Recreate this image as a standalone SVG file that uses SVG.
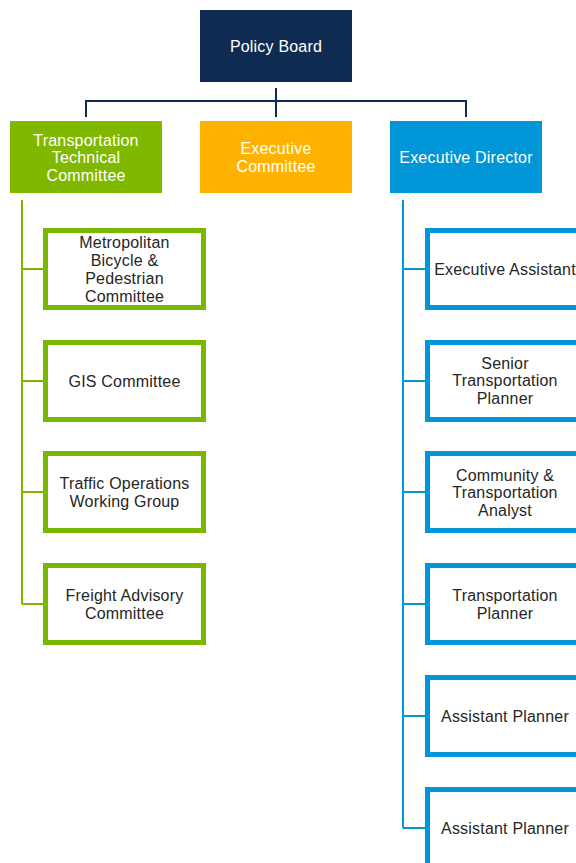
<svg xmlns="http://www.w3.org/2000/svg" width="576" height="863" viewBox="0 0 576 863">
<style>
text{font-family:"Liberation Sans",Arial,sans-serif;font-size:16px;letter-spacing:0.2px;text-anchor:middle;dominant-baseline:central}
.w{fill:#ffffff}
.d{fill:#262626}
.g{fill:#ffffff;stroke:#7AB800;stroke-width:5}
.b{fill:#ffffff;stroke:#0096D8;stroke-width:5}
</style>
<rect width="576" height="863" fill="#ffffff"/>
<g id="connectors" fill="none" stroke-width="2">
<path d="M276 88V101M86 117V101H466V117M276 101V117" stroke="#0F2B52"/>
<path d="M22 200V604M22 269H45M22 381H45M22 492H45M22 604H45" stroke="#7AB800"/>
<path d="M403 200V828M403 269H426M403 381H426M403 492H426M403 604H426M403 716H426M403 828H426" stroke="#0096D8"/>
</g>
<g id="policy-board"><rect x="200" y="10" width="152" height="72" fill="#0F2B52"/><text class="w" x="276" y="46">Policy Board</text></g>
<g id="ttc"><rect x="10" y="121" width="152" height="72" fill="#80B800"/><text class="w" x="86" y="140">Transportation</text><text class="w" x="86" y="157.5">Technical</text><text class="w" x="86" y="175">Committee</text></g>
<g id="exec-committee"><rect x="200" y="121" width="152" height="72" fill="#FFB300"/><text class="w" x="276" y="148">Executive</text><text class="w" x="276" y="166">Committee</text></g>
<g id="exec-director"><rect x="390" y="121" width="152" height="72" fill="#0096D8"/><text class="w" x="466" y="157">Executive Director</text></g>
<g id="mbpc"><rect class="g" x="45.5" y="230.5" width="158" height="77"/><text class="d" x="124.5" y="242">Metropolitan</text><text class="d" x="124.5" y="260">Bicycle &amp;</text><text class="d" x="124.5" y="278">Pedestrian</text><text class="d" x="124.5" y="296">Committee</text></g>
<g id="gis"><rect class="g" x="45.5" y="342.5" width="158" height="77"/><text class="d" x="124.5" y="381">GIS Committee</text></g>
<g id="towg"><rect class="g" x="45.5" y="453.5" width="158" height="77"/><text class="d" x="124.5" y="483">Traffic Operations</text><text class="d" x="124.5" y="501">Working Group</text></g>
<g id="fac"><rect class="g" x="45.5" y="565.5" width="158" height="77"/><text class="d" x="124.5" y="595">Freight Advisory</text><text class="d" x="124.5" y="613">Committee</text></g>
<g id="exec-assistant"><rect class="b" x="427.5" y="230.5" width="158" height="77"/><text class="d" x="505" y="269">Executive Assistant</text></g>
<g id="senior-planner"><rect class="b" x="427.5" y="342.5" width="158" height="77"/><text class="d" x="505" y="363">Senior</text><text class="d" x="505" y="380.5">Transportation</text><text class="d" x="505" y="398">Planner</text></g>
<g id="analyst"><rect class="b" x="427.5" y="453.5" width="158" height="77"/><text class="d" x="505" y="475">Community &amp;</text><text class="d" x="505" y="492.5">Transportation</text><text class="d" x="505" y="510">Analyst</text></g>
<g id="planner"><rect class="b" x="427.5" y="565.5" width="158" height="77"/><text class="d" x="505" y="595">Transportation</text><text class="d" x="505" y="613">Planner</text></g>
<g id="assistant-planner-1"><rect class="b" x="427.5" y="677.5" width="158" height="77"/><text class="d" x="505" y="716">Assistant Planner</text></g>
<g id="assistant-planner-2"><rect class="b" x="427.5" y="789.5" width="158" height="77"/><text class="d" x="505" y="828">Assistant Planner</text></g>
</svg>
